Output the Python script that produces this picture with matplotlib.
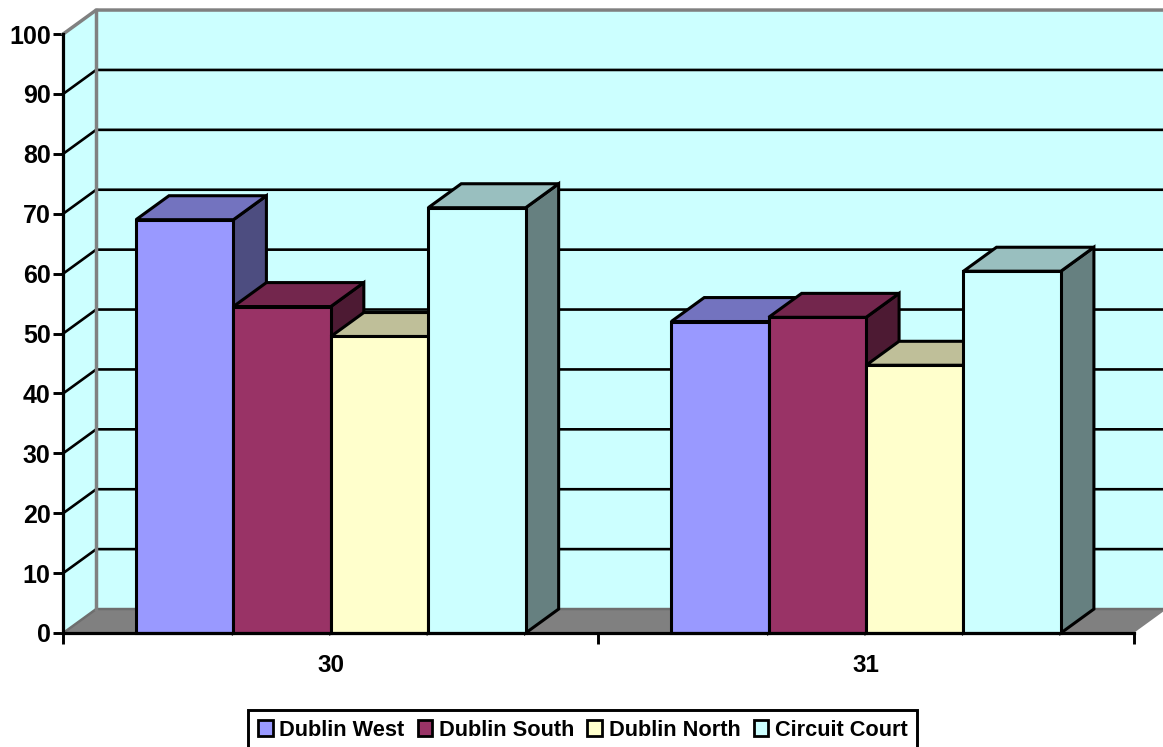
import matplotlib
matplotlib.use('Agg')
import matplotlib.pyplot as plt
from matplotlib.colors import to_rgb
from matplotlib.patches import Polygon, Patch

plt.rcParams['font.family'] = ['Liberation Sans', 'DejaVu Sans']
plt.rcParams['font.weight'] = 'bold'

# chart data
categories = ['30', '31']
series_names = ['Dublin West', 'Dublin South', 'Dublin North', 'Circuit Court']
dublin_west = [69, 52]
dublin_south = [54.5, 52.7]
dublin_north = [49.5, 44.7]
circuit_court = [71, 60.4]
y_ticks = list(range(0, 101, 10))

series = [dublin_west, dublin_south, dublin_north, circuit_court]
colors = ['#9999FF', '#993366', '#FFFFCC', '#CCFFFF']

W, H = 1163, 747
fig = plt.figure(figsize=(W / 100, H / 100), dpi=100, facecolor='white')
ax = fig.add_axes([63.2 / W, (H - 633) / H, 1070.5 / W, 599 / H])
ax.set_xlim(0, 2)
ax.set_ylim(0, 100)

# depth of the fake 3d box, in data units
dx = 33 / 535.25
dy = 4.0
bar_w = 0.182
gap = (1 - 4 * bar_w) / 2
black_lw = 2.2
wall = '#CCFFFF'
grey = '#808080'


def shade(color, k):
    return tuple(c * k for c in to_rgb(color))


def poly(points, face, z, edge='black', lw=black_lw):
    p = Polygon(points, closed=True, facecolor=face, edgecolor=edge, linewidth=lw,
                joinstyle='miter', clip_on=False, zorder=z)
    ax.add_patch(p)


# walls and floor
poly([(0, 0), (dx, dy), (dx, 100 + dy), (0, 100)], wall, 1, edge='none', lw=0)
poly([(dx, dy), (2 + dx, dy), (2 + dx, 100 + dy), (dx, 100 + dy)], wall, 1, edge='none', lw=0)
poly([(0, 0), (2, 0), (2 + dx, dy), (dx, dy)], grey, 1.5, edge='none', lw=0)

for v in y_ticks[1:-1]:
    ax.plot([0, dx, 2 + dx], [v, v + dy, v + dy], color='black', lw=1.9, zorder=2,
            clip_on=False, solid_joinstyle='miter')
ax.plot([0, dx, 2 + dx], [100, 100 + dy, 100 + dy], color=grey, lw=2.5, zorder=2, clip_on=False)
ax.plot([0, dx, 2 + dx], [0, dy, dy], color='#6E6E6E', lw=1.8, zorder=2, clip_on=False)
ax.plot([dx, dx], [dy, 100 + dy], color=grey, lw=2.5, zorder=2, clip_on=False)

# bars, painted left to right so later tops cover the earlier sides
z = 3
for c in range(len(categories)):
    for s, values in enumerate(series):
        x0 = c + gap + s * bar_w
        x1 = x0 + bar_w
        v = values[c]
        poly([(x1, 0), (x1 + dx, dy), (x1 + dx, v + dy), (x1, v)], shade(colors[s], 0.5), z)
        poly([(x0, v), (x0 + dx, v + dy), (x1 + dx, v + dy), (x1, v)], shade(colors[s], 0.75), z)
        ax.bar(x0, v, width=bar_w, align='edge', color=colors[s], edgecolor='black',
               linewidth=black_lw, zorder=z, clip_on=False)
        z += 1

# axes
for side in ['top', 'right']:
    ax.spines[side].set_visible(False)
for side in ['left', 'bottom']:
    ax.spines[side].set_linewidth(2.3)
    ax.spines[side].set_zorder(50)
ax.patch.set_visible(False)
ax.set_yticks(y_ticks)
ax.tick_params(axis='y', length=7.5, width=2.1, labelsize=18, pad=1.5)
ax.set_xticks([0, 1, 2])
ax.set_xticklabels([])
ax.tick_params(axis='x', length=8, width=2.1)
ax.set_xticks([0.5, 1.5], minor=True)
ax.set_xticklabels(categories, minor=True, fontsize=17.5)
ax.tick_params(axis='x', which='minor', length=0, pad=15)

handles = [Patch(facecolor=col, edgecolor='black', linewidth=2.0, label=name)
           for col, name in zip(colors, series_names)]
leg = fig.legend(handles=handles, ncol=4, loc='upper left',
                 bbox_to_anchor=(248 / W, (H - 710) / H), frameon=True, fancybox=False,
                 edgecolor='black', framealpha=1, fontsize=15.7, handlelength=0.68,
                 handleheight=0.72, handletextpad=0.3, columnspacing=0.6,
                 borderpad=0.45, borderaxespad=0)
leg.get_frame().set_linewidth(2.1)

fig.savefig('out.png', dpi=100)
